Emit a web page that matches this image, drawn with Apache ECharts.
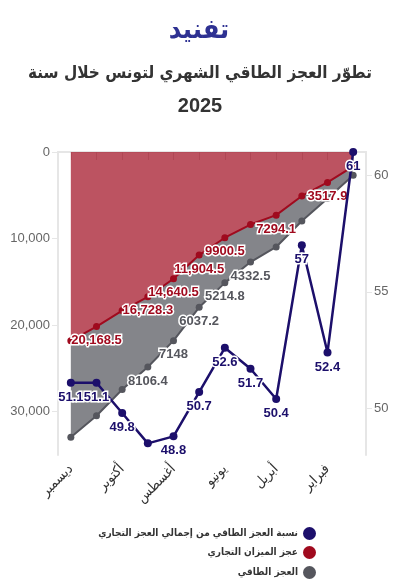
<!DOCTYPE html>
<html>
<head>
<meta charset="utf-8">
<script src="https://cdn.jsdelivr.net/npm/echarts@6/dist/echarts.min.js"></script>
<style>
html,body{margin:0;padding:0;background:#fff;}
#chart{width:399px;height:588px;}
</style>
</head>
<body>
<div id="chart"></div>
<script>
// Months, left (December) to right (January)
var categories = ['ديسمبر','نوفمبر','أكتوبر','سبتمبر','أغسطس','يوليو','يونيو','مايو','أبريل','مارس','فبراير','يناير'];
// Cumulative trade deficit (million TND)
var tradeDeficit = [21800, 20168.5, 18315, 16728.3, 14640.5, 11904.5, 9900.5, 8380, 7294.1, 5081, 3517.9, 1670];
// Cumulative energy deficit (million TND), stacked on trade deficit in the chart
var energyDeficit = [11140, 10306, 9121, 8106.4, 7148, 6037.2, 5214.8, 4332.5, 3676, 2896, 1843, 1020];
// Share of energy deficit in total trade deficit (%)
var ratio = [51.1, 51.1, 49.8, 48.5, 48.8, 50.7, 52.6, 51.7, 50.4, 57, 52.4, 61];
// Which data labels are visible
var tradeLabels = [false, true, false, true, true, true, true, false, true, false, true, false];
var energyLabels = [false, false, false, true, true, true, true, true, false, false, false, false];
var ratioLabels = [true, true, true, false, true, true, true, true, true, true, true, true];
var leftTicks = [0, 10000, 20000, 30000];
var rightTicks = [50, 55, 60];

var seriesNames = ['نسبة العجز الطاقي من إجمالي العجز التجاري', 'عجز الميزان التجاري', 'العجز الطاقي'];
var titleLine1 = 'تطوّر العجز الطاقي الشهري لتونس خلال سنة';
var titleLine2 = '2025';
var logoText = 'تفنيد';
var C_PURPLE = '#1c0f6b', C_RED = '#a00a1e', C_GRAY = '#55565d';
var FONT = '"Liberation Sans", Arial, "DejaVu Sans", sans-serif';
var AFONT = '"DejaVu Sans Condensed", "DejaVu Sans", sans-serif';

function fmt(v) {
  if (Math.abs(v) >= 10000) {
    var parts = String(v).split('.');
    parts[0] = parts[0].replace(/\B(?=(\d{3})+(?!\d))/g, ',');
    return parts.join('.');
  }
  return String(v);
}
function build(values, shows) {
  return values.map(function (v, i) {
    return { value: v, label: { show: shows[i] } };
  });
}
var labelBase = function (color) {
  return {
    show: true, position: 'bottom', distance: 4,
    color: color, fontFamily: FONT, fontWeight: 'bold', fontSize: 13,
    textBorderColor: '#fff', textBorderWidth: 3,
    formatter: function (p) { return fmt(p.value); }
  };
};

var chart = echarts.init(document.getElementById('chart'), null, { renderer: 'canvas' });
var axisLineColor = '#e6e6e6';
chart.setOption({
  animation: false,
  textStyle: { fontFamily: FONT },
  graphic: [
    { type: 'text', x: 199, y: 31, style: { text: logoText, textAlign: 'center', textVerticalAlign: 'middle',
        fill: '#2e3192', font: 'bold 27px ' + AFONT } },
    { type: 'text', x: 200, y: 74, style: { text: titleLine1, textAlign: 'center', textVerticalAlign: 'middle',
        fill: '#333', font: 'bold 17px ' + AFONT } },
    { type: 'text', x: 200, y: 106, style: { text: titleLine2, textAlign: 'center', textVerticalAlign: 'middle',
        fill: '#333', font: 'bold 20px ' + FONT } }
  ],
  legend: [0, 1, 2].map(function (k) {
    return {
      data: [seriesNames[k]], orient: 'vertical', align: 'right', right: 83, top: [527, 546, 566][k],
      icon: 'circle', itemWidth: 13, itemHeight: 13, padding: 0,
      selectedMode: false,
      textStyle: { color: '#333', fontSize: 10, fontWeight: 'bold', fontFamily: AFONT }
    };
  }),
  grid: { left: 58, right: 33, top: 152, bottom: 133, containLabel: false },
  xAxis: {
    type: 'category', data: categories, boundaryGap: true,
    axisLine: { show: true, lineStyle: { color: axisLineColor, width: 2 } },
    axisTick: { show: true, alignWithLabel: true, interval: 0, length: 8, lineStyle: { color: '#d8d8d8' } },
    axisLabel: { interval: 1, rotate: 45, color: '#333', fontSize: 14, margin: 12, fontFamily: AFONT },
    splitLine: { show: false }
  },
  yAxis: [
    {
      type: 'value', inverse: true, min: 0, max: 35000, position: 'left',
      axisLine: { show: true, lineStyle: { color: axisLineColor, width: 2 } },
      axisTick: { show: true, length: 6, customValues: leftTicks, lineStyle: { color: axisLineColor } },
      axisLabel: { customValues: leftTicks, color: '#666', fontSize: 13, margin: 8,
        formatter: function (v) { return fmt(v); } },
      splitLine: { show: false }
    },
    {
      type: 'value', min: 48, max: 61, position: 'right',
      axisLine: { show: true, lineStyle: { color: axisLineColor, width: 2 } },
      axisTick: { show: true, length: 6, customValues: rightTicks, lineStyle: { color: axisLineColor } },
      axisLabel: { customValues: rightTicks, color: '#666', fontSize: 13, margin: 8 },
      splitLine: { show: false }
    }
  ],
  series: [
    {
      name: seriesNames[0], type: 'line', yAxisIndex: 1, z: 5,
      data: build(ratio, ratioLabels), color: C_PURPLE,
      symbol: 'circle', symbolSize: 8,
      lineStyle: { width: 2.5, color: C_PURPLE },
      itemStyle: { color: C_PURPLE },
      label: labelBase(C_PURPLE)
    },
    {
      name: seriesNames[1], type: 'line', stack: 'deficit', z: 3,
      data: build(tradeDeficit, tradeLabels), color: C_RED,
      symbol: 'circle', symbolSize: 7,
      lineStyle: { width: 2, color: C_RED },
      itemStyle: { color: C_RED },
      areaStyle: { color: C_RED, opacity: 0.7 },
      label: labelBase(C_RED)
    },
    {
      name: seriesNames[2], type: 'line', stack: 'deficit', z: 2,
      data: build(energyDeficit, energyLabels), color: C_GRAY,
      symbol: 'circle', symbolSize: 7,
      lineStyle: { width: 2, color: C_GRAY },
      itemStyle: { color: C_GRAY },
      areaStyle: { color: C_GRAY, opacity: 0.72 },
      label: labelBase(C_GRAY)
    }
  ]
});
</script>
</body>
</html>
